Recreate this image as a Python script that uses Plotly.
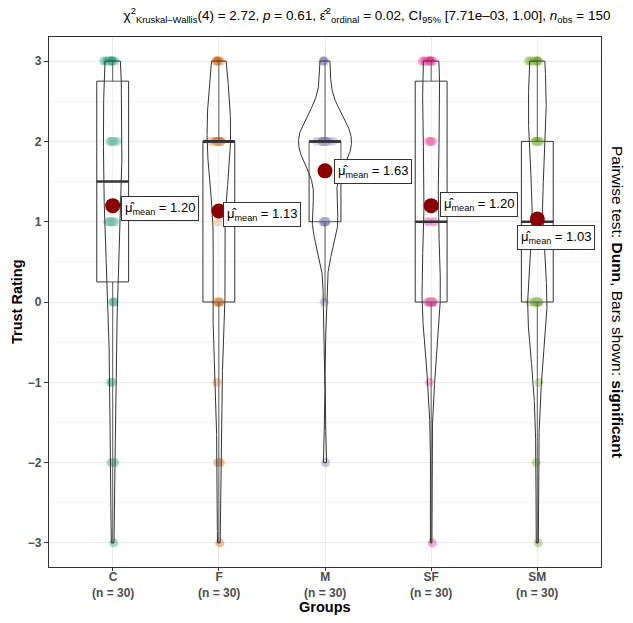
import numpy as np
import plotly.graph_objects as go

# ---- data ----
groups = ["C", "F", "M", "SF", "SM"]
group_n_labels = ["(n = 30)", "(n = 30)", "(n = 30)", "(n = 30)", "(n = 30)"]
rating_levels = [-3, -2, -1, 0, 1, 2, 3]
counts_C = [1, 2, 2, 3, 7, 7, 8]
counts_F = [1, 2, 1, 7, 1, 13, 5]
counts_M = [0, 1, 0, 1, 8, 17, 3]
counts_SF = [1, 0, 1, 10, 4, 6, 8]
counts_SM = [1, 1, 1, 12, 0, 8, 7]
y_ticks = [-3, -2, -1, 0, 1, 2, 3]

title_text = ("χ<sup>2</sup><sub>Kruskal–Wallis</sub>(4) = 2.72, <i>p</i> = 0.61, "
              "ε̂<sup>2</sup><sub>ordinal</sub> = 0.02, CI<sub>95%</sub> [7.71e–03, 1.00], "
              "<i>n</i><sub>obs</sub> = 150")
caption_text = "Pairwise test: <b>Dunn</b>, Bars shown: <b>significant</b>"
x_title = "Groups"
y_title = "Trust Rating"

# ---- style ----
colors = ["#1B9E77", "#D95F02", "#7570B3", "#E7298A", "#66A61E"]
label_dx = [0.45, 0.41, 0.45, 0.45, 0.18]
label_dy = [-0.03, -0.04, -0.01, 0.01, -0.23]
FONT = "Liberation Sans, Arial, sans-serif"
DARK = "#333333"
W, H = 633, 623
ML, MR, MT, MB = 49, 32, 37, 56

all_counts = [counts_C, counts_F, counts_M, counts_SF, counts_SM]
data = [np.repeat(np.array(rating_levels, dtype=float), c) for c in all_counts]
positions = list(range(1, len(groups) + 1))


def kde(vals):
    n = len(vals)
    sd = np.std(vals, ddof=1)
    q1, q3 = np.percentile(vals, [25, 75])
    lo = min(sd, (q3 - q1) / 1.34)
    bw = 0.9 * lo * n ** -0.2
    grid = np.linspace(vals.min(), vals.max(), 512)
    dens = np.exp(-0.5 * ((grid[:, None] - vals[None, :]) / bw) ** 2).sum(1) / (n * bw * np.sqrt(2 * np.pi))
    return grid, dens


kdes = [kde(v) for v in data]
gmax = max(d.max() for _, d in kdes)

fig = go.Figure()

# jittered points
for i, (g, v) in enumerate(zip(groups, data)):
    fig.add_trace(go.Box(
        x=[positions[i]] * len(v), y=v, width=0.3,
        boxpoints="all", jitter=0.6, pointpos=0,
        line=dict(width=0, color="rgba(0,0,0,0)"), fillcolor="rgba(0,0,0,0)",
        marker=dict(color=colors[i], opacity=0.4, size=9, line=dict(width=0)),
        showlegend=False, hoverinfo="skip",
    ))

# violins
for i, (grid, dens) in enumerate(kdes):
    hw = 0.25 * dens / gmax
    xs = np.concatenate([positions[i] + hw, (positions[i] - hw)[::-1], [positions[i] + hw[0]]])
    ys = np.concatenate([grid, grid[::-1], [grid[0]]])
    fig.add_trace(go.Scatter(
        x=xs, y=ys, mode="lines", fill="toself", fillcolor="rgba(255,255,255,0.2)",
        line=dict(color=DARK, width=1), showlegend=False, hoverinfo="skip",
    ))

# boxes
for i, v in enumerate(data):
    q1, med, q3 = np.percentile(v, [25, 50, 75])
    iqr = q3 - q1
    lf = v[v >= q1 - 1.5 * iqr].min()
    uf = v[v <= q3 + 1.5 * iqr].max()
    fig.add_trace(go.Box(
        x=[positions[i]], q1=[q1], median=[med], q3=[q3], lowerfence=[lf], upperfence=[uf],
        width=0.3, whiskerwidth=0, boxpoints=False,
        line=dict(color=DARK, width=1), fillcolor="rgba(255,255,255,0.2)",
        showlegend=False, hoverinfo="skip",
    ))
    fig.add_trace(go.Scatter(
        x=[positions[i] - 0.15, positions[i] + 0.15], y=[med, med], mode="lines",
        line=dict(color=DARK, width=2.6), showlegend=False, hoverinfo="skip",
    ))

# means
means = [float(np.mean(v)) for v in data]
fig.add_trace(go.Scatter(
    x=positions, y=means, mode="markers",
    marker=dict(color="#8B0000", size=15, line=dict(width=0)),
    showlegend=False, hoverinfo="skip",
))

for i, m in enumerate(means):
    fig.add_annotation(
        x=positions[i] + label_dx[i], y=m + label_dy[i], xref="x", yref="y",
        text=f"μ̂<sub>mean</sub> = {m:.2f}", showarrow=False,
        font=dict(family=FONT, size=13, color="black"),
        bgcolor="white", bordercolor=DARK, borderwidth=1, borderpad=3,
    )

pw, ph = W - ML - MR, H - MT - MB

# category tick labels (two lines each)
for i, (g, n) in enumerate(zip(groups, group_n_labels)):
    fig.add_annotation(
        x=positions[i], xref="x", y=-(569 - (H - MB)) / ph, yref="paper", yanchor="top",
        text=f"<b>{g}</b><br><b>{n}</b>", showarrow=False,
        font=dict(family=FONT, size=12, color="#4D4D4D"), borderpad=0,
    )

# axis titles and caption
fig.add_annotation(
    x=0.5, xref="paper", y=-(607 - (H - MB)) / ph, yref="paper", yanchor="middle",
    text=f"<b>{x_title}</b>", showarrow=False, font=dict(family=FONT, size=14.5, color="black"),
)
fig.add_annotation(
    x=-(ML - 17) / pw, xref="paper", xanchor="center", y=0.5, yref="paper",
    text=f"<b>{y_title}</b>", textangle=-90, showarrow=False,
    font=dict(family=FONT, size=14.5, color="black"),
)
fig.add_annotation(
    x=1 + (618 - (W - MR)) / pw, xref="paper", xanchor="center", y=0.5, yref="paper",
    text=caption_text, textangle=90, showarrow=False,
    font=dict(family=FONT, size=15.5, color="black"),
)

fig.update_layout(
    width=W, height=H,
    margin=dict(l=ML, r=MR, t=MT, b=MB, autoexpand=False),
    paper_bgcolor="white", plot_bgcolor="white",
    font=dict(family=FONT, color="black"),
    title=dict(text=title_text, x=367 / W, xanchor="center", y=1 - 15 / H, yanchor="middle",
               font=dict(family=FONT, size=13.5, color="black")),
    showlegend=False,
    boxmode="overlay",
    xaxis=dict(
        range=[0.4, 5.6], tickmode="array", tickvals=positions, showticklabels=False,
        showgrid=True, gridcolor="#EBEBEB", gridwidth=1,
        showline=True, linecolor=DARK, linewidth=1.2, mirror=True,
        ticks="outside", ticklen=3, tickcolor=DARK, zeroline=False,
    ),
    yaxis=dict(
        range=[-3.3, 3.3], tickmode="array", tickvals=y_ticks,
        ticktext=[f"<b>{t}</b>" if t >= 0 else f"<b>−{abs(t)}</b>" for t in y_ticks],
        tickfont=dict(family=FONT, size=12, color="#4D4D4D"),
        showgrid=True, gridcolor="#EBEBEB", gridwidth=1,
        minor=dict(dtick=0.5, tick0=0.5, showgrid=True, gridcolor="#F4F4F4", gridwidth=1, ticks=""),
        showline=True, linecolor=DARK, linewidth=1.2, mirror=True,
        ticks="outside", ticklen=4, tickcolor=DARK, zeroline=False,
    ),
)

fig.write_html("out.html", config={"displayModeBar": False},
               post_script="document.body.style.margin='0';")
